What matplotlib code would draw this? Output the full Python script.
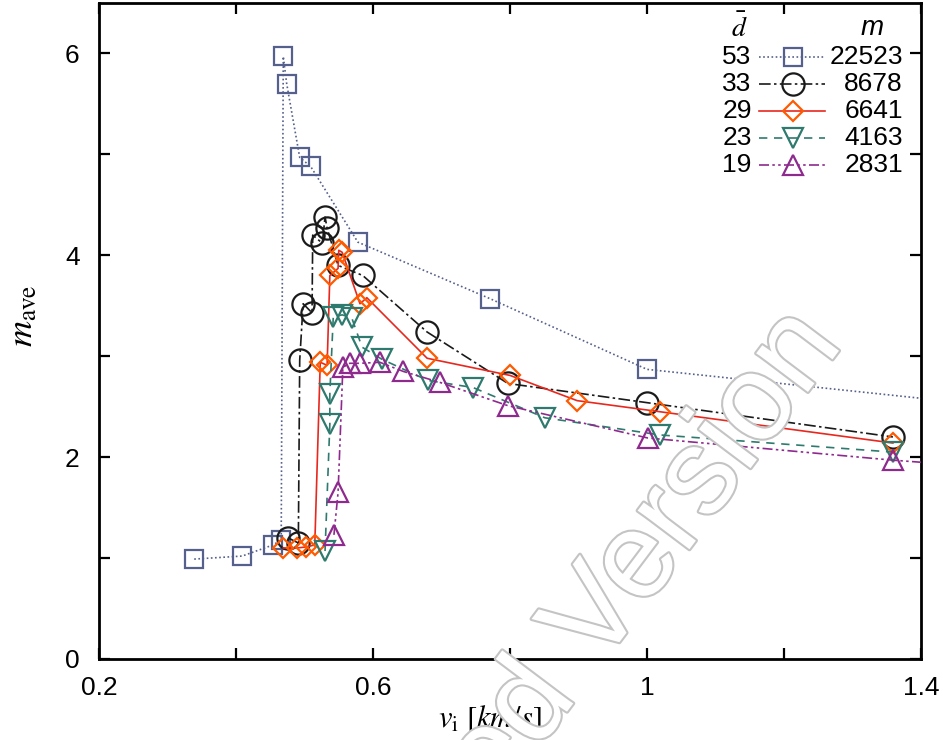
import matplotlib
matplotlib.use('Agg')
import matplotlib.pyplot as plt
import matplotlib.patheffects as pe

plt.rcParams['font.family'] = ['Liberation Sans', 'DejaVu Sans']
plt.rcParams['mathtext.fontset'] = 'stix'

# series: d bar, m, impact velocity [km/s], m_ave
d_vals = ['53', '33', '29', '23', '19']
m_vals = ['22523', '8678', '6641', '4163', '2831']

x53 = [0.339, 0.409, 0.454, 0.466, 0.469, 0.474, 0.493, 0.509, 0.578, 0.771, 1.000, 1.600]
y53 = [0.99, 1.02, 1.13, 1.18, 5.97, 5.70, 4.97, 4.88, 4.13, 3.57, 2.87, 2.44]

x33 = [0.476, 0.491, 0.493, 0.498, 0.511, 0.512, 0.526, 0.530, 0.533, 0.549, 0.585, 0.679, 0.797, 1.000, 1.359]
y33 = [1.20, 1.15, 2.96, 3.52, 3.43, 4.20, 4.12, 4.38, 4.27, 3.90, 3.80, 3.24, 2.73, 2.54, 2.20]

x29 = [0.469, 0.489, 0.502, 0.515, 0.523, 0.533, 0.537, 0.549, 0.550, 0.555, 0.581, 0.591, 0.679, 0.800, 0.898, 1.019, 1.359]
y29 = [1.10, 1.10, 1.11, 1.13, 2.94, 2.91, 3.80, 3.87, 4.05, 4.03, 3.52, 3.58, 2.98, 2.81, 2.56, 2.45, 2.14]

x23 = [0.530, 0.537, 0.537, 0.542, 0.555, 0.569, 0.584, 0.613, 0.680, 0.746, 0.851, 1.019, 1.359]
y23 = [1.07, 2.33, 2.63, 3.39, 3.41, 3.38, 3.09, 2.97, 2.76, 2.69, 2.39, 2.22, 2.05]

x19 = [0.543, 0.549, 0.556, 0.566, 0.581, 0.610, 0.644, 0.698, 0.797, 1.001, 1.359, 1.600]
y19 = [1.23, 1.65, 2.89, 2.93, 2.93, 2.94, 2.85, 2.74, 2.51, 2.19, 1.97, 1.85]

xs = [x53, x33, x29, x23, x19]
ys = [y53, y33, y29, y23, y19]

line_cols = ['#55608c', '#1a1a1a', '#e8281e', '#2f7a6e', '#8e2a8e']
mark_cols = ['#55608c', '#1a1a1a', '#ff5a00', '#2f7a6e', '#8e2a8e']
markers = ['s', 'o', 'D', 'v', '^']
msizes = [13, 16, 10, 15, 15]
dashes = [(1, 1.5), (7, 2, 1.5, 2), (), (5, 4), (6, 2, 1.5, 2, 1.5, 2)]

fig = plt.figure(figsize=(9.43, 7.4), dpi=100)
ax = fig.add_axes([99/943, 81/740, 822/943, 656/740])

for i in range(5):
    ls = '-' if len(dashes[i]) == 0 else (0, dashes[i])
    ax.plot(xs[i], ys[i], color=line_cols[i], lw=1.2, ls=ls,
            marker=markers[i], ms=msizes[i], mfc='none', mec=mark_cols[i], mew=1.6,
            zorder=3 + i)

ax.set_xlim(0.2, 1.4)
ax.set_ylim(0, 6.5)
ax.set_xticks([0.2, 0.4, 0.6, 0.8, 1.0, 1.2, 1.4])
ax.set_xticklabels(['0.2', '', '0.6', '', '1', '', '1.4'])
ax.set_yticks([0, 1, 2, 3, 4, 5, 6])
ax.set_yticklabels(['0', '', '2', '', '4', '', '6'])
ax.tick_params(direction='in', top=True, right=True, length=8, width=1.6, labelsize=19)
ax.tick_params(axis='y', pad=14)
ax.tick_params(axis='x', pad=12)
for s in ax.spines.values():
    s.set_linewidth(2)

ax.set_xlabel(r'$v_{\rm i}\ [km/s]$', fontsize=22)
ax.xaxis.set_label_coords(0.476, -0.068)
ax.set_ylabel(r'$m_{\rm ave}$', fontsize=26)
ax.yaxis.set_label_coords(-0.072, 0.524)

# legend drawn as a small table: d bar | sample | m
y0 = 0.918
dy = 0.0412
ax.text(0.779, 0.962, r'$\bar{d}$', transform=ax.transAxes, ha='center', va='center', fontsize=20)
ax.text(0.940, 0.962, 'm', style='italic', transform=ax.transAxes, ha='center', va='center', fontsize=20)
for i in range(5):
    yy = y0 - i * dy
    ls = '-' if len(dashes[i]) == 0 else (0, dashes[i])
    ax.text(0.794, yy, d_vals[i], transform=ax.transAxes, ha='right', va='center', fontsize=19)
    ax.plot([0.803, 0.844, 0.883], [yy, yy, yy], transform=ax.transAxes, color=line_cols[i],
            lw=1.2, ls=ls, marker=markers[i], ms=msizes[i], markevery=[1], mfc='none',
            mec=mark_cols[i], mew=1.6, clip_on=False, zorder=10)
    ax.text(0.978, yy, m_vals[i], transform=ax.transAxes, ha='right', va='center', fontsize=19)

# watermark
fig.text(0.895, 0.535, 'Accepted Version', rotation=53, rotation_mode='anchor',
         ha='right', va='baseline', fontsize=88, color='white', zorder=20,
         path_effects=[pe.Stroke(linewidth=3, foreground='#c4c4c4'), pe.Normal()])

fig.savefig('out.png', dpi=100)
